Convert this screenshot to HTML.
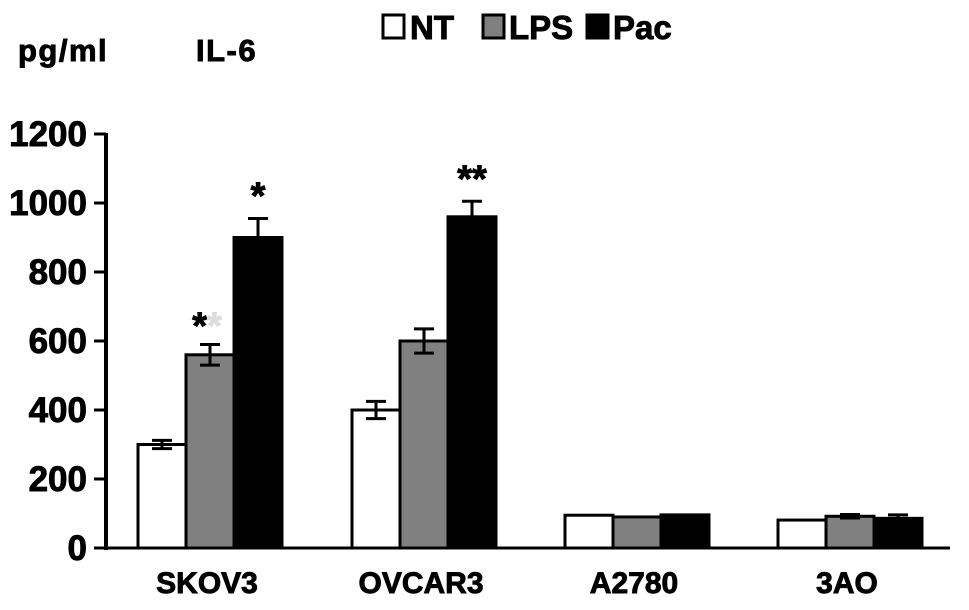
<!DOCTYPE html>
<html><head><meta charset="utf-8"><style>
body{margin:0;background:#fff;width:969px;height:605px;overflow:hidden}
svg text{font-family:"Liberation Sans",Arial,sans-serif;font-weight:bold;fill:#000;stroke:#000;stroke-width:0.9}
</style></head><body>
<svg id="chart" width="969" height="605" xmlns="http://www.w3.org/2000/svg">
<text x="18" y="61" font-size="31" letter-spacing="1.5">pg/ml</text>
<text x="196" y="61" font-size="31" letter-spacing="1.5">IL-6</text>
<g id="legend">
<g><rect x="383" y="15" width="21" height="23" fill="#fff" stroke="#000" stroke-width="3"/><text x="410" y="39" font-size="33">NT</text></g>
<g><rect x="483" y="15" width="21" height="23" fill="#808080" stroke="#000" stroke-width="3"/><text x="509" y="39" font-size="33">LPS</text></g>
<g><rect x="587" y="15" width="21" height="23" fill="#000" stroke="#000" stroke-width="3"/><text x="613" y="39" font-size="33">Pac</text></g>
</g>
<g id="plot"></g>
</svg>
<script>
const categories=["SKOV3","OVCAR3","A2780","3AO"];
const seriesNames=["NT","LPS","Pac"];
const ntValues=[300,400,95,81];
const lpsValues=[560,600,90,92];
const pacValues=[900,960,96,86];
const ntErr=[12,25,0,0];
const lpsErr=[30,35,0,5];
const pacErr=[55,45,0,10];
const stars=[["","","*"],["","","**"],["","",""],["","",""]];
const yTicks=[0,200,400,600,800,1000,1200];

const ns="http://www.w3.org/2000/svg";
const g=document.getElementById('plot');
const y0=548,y1=134,yMax=1200;
const y=v=>y0-(v/yMax)*(y0-y1);
const groupStart=[138,352,565,778];
const barW=48;
const x=(ci,si)=>groupStart[ci]+si*barW;
function mk(t,a){const e=document.createElementNS(ns,t);for(const k in a)e.setAttribute(k,a[k]);g.appendChild(e);return e;}
let e;
e=mk('line',{x1:106,y1:y1-1,x2:106,y2:y0+2,stroke:'#000','stroke-width':4});


e=mk('line',{x1:94,y1:y0,x2:950,y2:y0,stroke:'#000','stroke-width':3});


yTicks.forEach(t=>{
 e=mk('line',{x1:94,x2:106,y1:y(t),y2:y(t),stroke:'#000','stroke-width':3});
 
 
 e=mk('text',{x:87,y:y(t)+12,'text-anchor':'end','font-size':35});
 e.textContent=t;
 
 
});
const vals=[ntValues,lpsValues,pacValues],errs=[ntErr,lpsErr,pacErr],fills=['#fff','#808080','#000'];
categories.forEach((c,ci)=>{
 vals.forEach((arr,si)=>{
  const v=arr[ci],xx=x(ci,si);
  e=mk('rect',{x:xx,y:y(v),width:barW,height:y0-y(v),fill:fills[si],stroke:'#000','stroke-width':3});
  
  
  const er=errs[si][ci];
  if(er>0){
   const cx=xx+barW/2;
   e=mk('path',{d:`M${cx} ${y(v+er)}V${y(v-er)}M${cx-10} ${y(v+er)}H${cx+10}M${cx-10} ${y(v-er)}H${cx+10}`,stroke:'#000','stroke-width':3,fill:'none'});
   
   
  }
  const s=stars[ci][si];
  if(s){
   e=mk('text',{x:xx+barW/2,y:y(v+errs[si][ci])-10,'text-anchor':'middle','font-size':38});
   e.textContent=s;
   
   
  }
 });
 e=mk('text',{x:groupStart[ci]+barW*1.5-3,y:593,'text-anchor':'middle','font-size':30});
 e.textContent=c;
 
 
});
e=mk('text',{x:x(0,1)+barW/2-3,y:y(lpsValues[0]+lpsErr[0])-6,'text-anchor':'end','font-size':38});
e.textContent='*';


e=mk('text',{x:x(0,1)+barW/2-3,y:y(lpsValues[0]+lpsErr[0])-6,'text-anchor':'start','font-size':38,style:'fill:#ddd;stroke:#ddd'});
e.textContent='*';


</script>
</body></html>
